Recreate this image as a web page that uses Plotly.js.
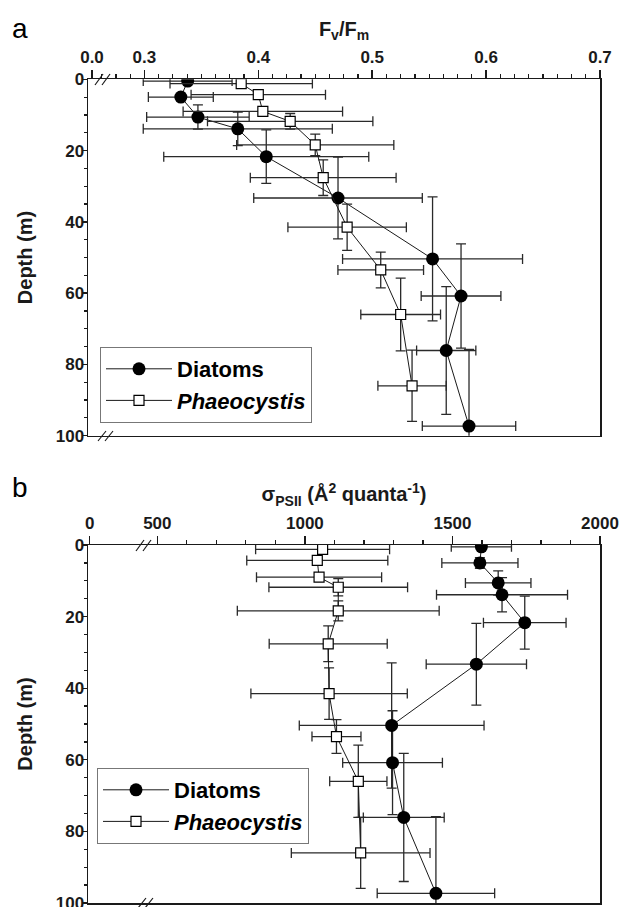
<!DOCTYPE html>
<html>
<head>
<meta charset="utf-8">
<script src="https://cdn.plot.ly/plotly-3.0.1.min.js"></script>
<style>html,body{margin:0;padding:0;background:#fff;}#chart{width:622px;height:907px;}</style>
</head>
<body>
<div id="chart"></div>
<script>
// ---------- data ----------
const depthDiatoms = [0.5, 5, 10.6, 13.9, 21.7, 33.3, 50.4, 60.8, 76.1, 97.3];
const depthPhaeo   = [1.2, 4.3, 9.0, 11.8, 18.4, 27.6, 41.5, 53.5, 66.0, 86.0];

// panel a : Fv/Fm
const fvfmDiatoms      = [0.338, 0.332, 0.347, 0.382, 0.407, 0.470, 0.553, 0.578, 0.565, 0.585];
const fvfmDiatomsErrX  = [0.039, 0.0285, 0.045, 0.083, 0.090, 0.074, 0.079, 0.035, 0.026, 0.041];
const fvfmDiatomsErrY  = [0, 0, 3.4, 4.7, 7.5, 11.5, 17.4, 14.6, 17.9, 21.5];
const fvfmPhaeo        = [0.385, 0.400, 0.404, 0.428, 0.450, 0.457, 0.478, 0.5075, 0.525, 0.535];
const fvfmPhaeoErrX    = [0.0625, 0.059, 0.070, 0.0726, 0.069, 0.064, 0.052, 0.0376, 0.035, 0.030];
const fvfmPhaeoErrY    = [0, 0, 0, 2.2, 3, 5, 6.5, 5, 10.2, 10];

// panel b : sigma PSII
const sigmaDiatoms     = [1598, 1593, 1655, 1668, 1745, 1581, 1294, 1297, 1335, 1444];
const sigmaDiatomsErrX = [102, 129, 111, 222, 140, 170, 313, 169, 137, 199];
const sigmaDiatomsErrY = [0, 1.5, 3.4, 4.8, 7.4, 11.4, 17.5, 14.5, 17.9, 21.4];
const sigmaPhaeo       = [1060, 1042, 1048, 1113, 1113, 1079, 1082, 1107, 1181, 1189];
const sigmaPhaeoErrX   = [227, 239, 212, 235, 342, 200, 265, 83, 97, 235];
const sigmaPhaeoErrY   = [0, 0, 0, 2.4, 2.8, 5, 7.2, 4.7, 10.1, 9.9];

// tick labels
const fvfmTickVals  = [0.254, 0.3, 0.4, 0.5, 0.6, 0.7];
const fvfmTickText  = ['0.0', '0.3', '0.4', '0.5', '0.6', '0.7'];
const sigmaTickVals = [271, 500, 1000, 1500, 2000];
const sigmaTickText = ['0', '500', '1000', '1500', '2000'];
const sigmaMinorVals = [600, 700, 800, 900, 1100, 1200, 1300, 1400, 1600, 1700, 1800, 1900];
const depthTickVals = [0, 20, 40, 60, 80, 100];
const seriesNames = ['Diatoms', '<i>Phaeocystis</i>'];

// ---------- style ----------
const FONT = 'Liberation Sans, Arial, Helvetica, sans-serif';
const INK = '#1a1a1a';
const W = 622, H = 907;
const px = v => v / W, py = v => 1 - v / H;

function errBar(arr) {
  return {type: 'data', array: arr, visible: true, color: '#2a2a2a', thickness: 1.3, width: 5};
}
function diatomTrace(x, ex, ey, xa, ya, lg) {
  return {
    x: x, y: depthDiatoms, xaxis: xa, yaxis: ya, legend: lg,
    name: seriesNames[0], mode: 'lines+markers', type: 'scatter',
    line: {color: INK, width: 1},
    marker: {symbol: 'circle', size: 13, color: '#000', line: {color: '#000', width: 0}},
    error_x: errBar(ex), error_y: errBar(ey), cliponaxis: true
  };
}
function phaeoTrace(x, ex, ey, xa, ya, lg) {
  return {
    x: x, y: depthPhaeo, xaxis: xa, yaxis: ya, legend: lg,
    name: seriesNames[1], mode: 'lines+markers', type: 'scatter',
    line: {color: INK, width: 1},
    marker: {symbol: 'square', size: 10, color: '#fff', line: {color: '#000', width: 1.2}},
    error_x: errBar(ex), error_y: errBar(ey), cliponaxis: true
  };
}

const data = [
  diatomTrace(fvfmDiatoms, fvfmDiatomsErrX, fvfmDiatomsErrY, 'x', 'y', 'legend'),
  phaeoTrace(fvfmPhaeo, fvfmPhaeoErrX, fvfmPhaeoErrY, 'x', 'y', 'legend'),
  diatomTrace(sigmaDiatoms, sigmaDiatomsErrX, sigmaDiatomsErrY, 'x2', 'y2', 'legend2'),
  phaeoTrace(sigmaPhaeo, sigmaPhaeoErrX, sigmaPhaeoErrY, 'x2', 'y2', 'legend2')
];

const tickFont = {family: FONT, size: 17, color: INK, weight: 'bold'};
const titleFont = {family: FONT, size: 20, color: INK, weight: 'bold'};

function xAxis(domainAnchor, range, tv, tt, minor, title) {
  return {
    domain: [px(88), px(600)], anchor: domainAnchor, side: 'top',
    range: range, tickmode: 'array', tickvals: tv, ticktext: tt,
    ticks: 'outside', ticklen: 8, tickwidth: 1.4, tickcolor: INK,
    showline: true, linecolor: INK, linewidth: 1.5, mirror: true,
    showgrid: false, zeroline: false, tickfont: tickFont, ticklabelstandoff: 0,
    minor: minor,
    title: {text: title, font: titleFont, standoff: 6}
  };
}
function yAxis(domain, anchor) {
  return {
    domain: domain, anchor: anchor, range: [100, 0], autorange: false,
    tickmode: 'array', tickvals: depthTickVals,
    ticks: 'outside', ticklen: 5, tickwidth: 1.4, tickcolor: INK,
    minor: {dtick: 5, tick0: 0, ticklen: 3, tickwidth: 1.2, tickcolor: INK, ticks: 'outside'},
    showline: true, linecolor: INK, linewidth: 1.5, mirror: true,
    showgrid: false, zeroline: false, tickfont: tickFont, ticklabelstandoff: -6,
    ticklabeloverflow: 'allow',
    title: {text: 'Depth (m)', font: titleFont, standoff: 17}
  };
}

function slashes(x0, yTop, yBot) {
  const s = [];
  [0, 7].forEach(d => {
    s.push({type: 'line', xref: 'paper', yref: 'paper',
      x0: px(x0 + d), y0: py(yBot), x1: px(x0 + d + 8), y1: py(yTop),
      line: {color: INK, width: 1.2}});
  });
  return s;
}

const legendCommon = {
  xanchor: 'left', yanchor: 'top', bgcolor: '#fff', bordercolor: '#777', borderwidth: 1,
  font: {family: FONT, size: 22, color: '#000', weight: 'bold'},
  itemwidth: 66, tracegroupgap: 0, traceorder: 'normal'
};

const layout = {
  width: W, height: H,
  margin: {l: 0, r: 0, t: 0, b: 0},
  paper_bgcolor: '#fff', plot_bgcolor: '#fff',
  showlegend: true,
  xaxis: xAxis('y', [0.2505, 0.7], fvfmTickVals, fvfmTickText,
    {dtick: 0.0125, tick0: 0.3, ticklen: 4, tickwidth: 1.2, tickcolor: INK, ticks: 'outside'},
    'F<sub>v</sub>/F<sub>m</sub>'),
  yaxis: yAxis([py(435.7), py(79.3)], 'x'),
  xaxis2: xAxis('y2', [265, 2000], sigmaTickVals, sigmaTickText,
    {tickmode: 'array', tickvals: sigmaMinorVals, ticklen: 4, tickwidth: 1.2, tickcolor: INK, ticks: 'outside'},
    'σ<sub>PSII</sub> (Å<sup>2</sup> quanta<sup>-1</sup>)'),
  yaxis2: yAxis([py(903), py(545)], 'x2'),
  legend: Object.assign({x: px(100), y: py(347)}, legendCommon),
  legend2: Object.assign({x: px(97), y: py(768)}, legendCommon),
  annotations: [
    {text: 'a', xref: 'paper', yref: 'paper', x: px(20), y: py(28), showarrow: false,
     xanchor: 'center', yanchor: 'middle', font: {family: FONT, size: 28, color: '#000'}},
    {text: 'b', xref: 'paper', yref: 'paper', x: px(20), y: py(488), showarrow: false,
     xanchor: 'center', yanchor: 'middle', font: {family: FONT, size: 28, color: '#000'}}
  ],
  shapes: [].concat(
    slashes(95, 74, 85), slashes(98, 431, 441),
    slashes(136, 540, 551), slashes(138, 898, 908)
  )
};

Plotly.newPlot('chart', data, layout, {staticPlot: true, displayModeBar: false});
</script>
</body>
</html>
